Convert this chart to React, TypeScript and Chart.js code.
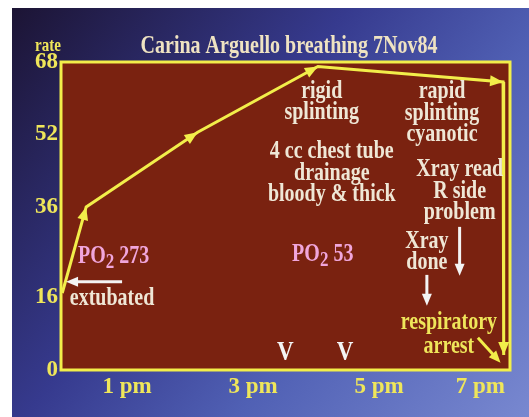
import React, { useEffect, useRef } from 'react';
import { Chart, registerables } from 'chart.js';

Chart.register(...registerables);

// ---- data ----
const times = [11.97, 12.35, 14.12, 16.03, 18.97, 18.98];
const rates = [17, 36, 52.5, 67, 63.6, 3.3];
const yTickValues = [0, 16, 36, 52, 68];
const xTickHours = [12, 13, 15, 17, 19];
const xTickLabels = ['', '1 pm', '3 pm', '5 pm', '7 pm'];
const chartTitle = 'Carina Arguello breathing 7Nov84';
const yAxisLabel = 'rate';

// ---- style ----
const YELLOW = '#f2ee4a';
const LABEL_YELLOW = '#efe65a';
const CREAM = '#efe7d6';
const PINK = '#f0a6dc';
const WHITE = '#f4f4f4';
const MAROON = '#7a2210';
const FONT = '"Liberation Serif", "Times New Roman", serif';
const STRETCH = 1.22;

type Note = { lines: string[]; t: number; v: number; color: string; lh: number };
const notes: Note[] = [
  { lines: ['rigid', 'splinting'], t: 16.09, v: 61.4, color: CREAM, lh: 20.5 },
  { lines: ['rapid', 'splinting', 'cyanotic'], t: 18.0, v: 61.4, color: CREAM, lh: 21.5 },
  { lines: ['4 cc chest tube', 'drainage', 'bloody & thick'], t: 16.25, v: 48.1, color: CREAM, lh: 21.5 },
  { lines: ['Xray read', 'R side', 'problem'], t: 18.28, v: 44.2, color: CREAM, lh: 21.5 },
  { lines: ['Xray', 'done'], t: 17.76, v: 28.3, color: CREAM, lh: 21 },
  { lines: ['respiratory', 'arrest'], t: 18.11, v: 10.4, color: LABEL_YELLOW, lh: 24 },
];
const poNotes = [
  { value: '273', t: 12.22, v: 25 },
  { value: '53', t: 15.62, v: 25.4 },
];
const whiteArrows = [
  { t0: 12.92, v0: 19.5, t1: 12.03, v1: 19.5 },
  { t0: 18.28, v0: 31.6, t1: 18.28, v1: 20.8 },
  { t0: 17.76, v0: 21.0, t1: 17.76, v1: 14.2 },
];
const yellowArrows = [{ t0: 18.57, v0: 7.1, t1: 18.93, v1: 1.6 }];
const vMarks = [15.51, 16.46];

function arrowHead(ctx: CanvasRenderingContext2D, x0: number, y0: number, x1: number, y1: number, len: number, half: number, color: string) {
  const a = Math.atan2(y1 - y0, x1 - x0);
  ctx.save();
  ctx.fillStyle = color;
  ctx.beginPath();
  ctx.moveTo(x1, y1);
  ctx.lineTo(x1 - len * Math.cos(a) + half * Math.sin(a), y1 - len * Math.sin(a) - half * Math.cos(a));
  ctx.lineTo(x1 - len * Math.cos(a) - half * Math.sin(a), y1 - len * Math.sin(a) + half * Math.cos(a));
  ctx.closePath();
  ctx.fill();
  ctx.restore();
}

function sText(ctx: CanvasRenderingContext2D, text: string, x: number, y: number) {
  ctx.save();
  ctx.translate(x, y);
  ctx.scale(1, STRETCH);
  ctx.fillText(text, 0, 0);
  ctx.restore();
}

const slidePlugin = {
  id: 'slide',
  beforeDraw(chart: any) {
    const { ctx, width, height, chartArea } = chart;
    ctx.save();
    ctx.fillStyle = '#ffffff';
    ctx.fillRect(0, 0, width, height);
    const g = ctx.createLinearGradient(12, 8, width, height);
    g.addColorStop(0, '#1c1434');
    g.addColorStop(0.4, '#363a8e');
    g.addColorStop(0.65, '#5060b4');
    g.addColorStop(1, '#7888d0');
    ctx.fillStyle = g;
    ctx.fillRect(12, 8, width - 12, height - 8);
    ctx.fillStyle = MAROON;
    ctx.fillRect(chartArea.left, chartArea.top, chartArea.right - chartArea.left, chartArea.bottom - chartArea.top);
    ctx.restore();
  },
  afterDatasetsDraw(chart: any) {
    const { ctx } = chart;
    const pts = chart.getDatasetMeta(0).data;
    for (let i = 1; i < pts.length; i++) {
      arrowHead(ctx, pts[i - 1].x, pts[i - 1].y, pts[i].x, pts[i].y, 13, 5.5, YELLOW);
    }
  },
  afterDraw(chart: any) {
    const { ctx, chartArea, scales } = chart;
    const X = (t: number) => scales.x.getPixelForValue(t);
    const Y = (v: number) => scales.y.getPixelForValue(v);
    ctx.save();
    // plot frame
    ctx.strokeStyle = YELLOW;
    ctx.lineWidth = 3;
    ctx.strokeRect(chartArea.left, chartArea.top, chartArea.right - chartArea.left, chartArea.bottom - chartArea.top);

    // title
    ctx.fillStyle = '#efe3c2';
    ctx.font = `bold 20px ${FONT}`;
    ctx.textAlign = 'center';
    ctx.textBaseline = 'middle';
    sText(ctx, chartTitle, 289, 47);

    // y axis label
    ctx.fillStyle = LABEL_YELLOW;
    ctx.font = `bold 15px ${FONT}`;
    sText(ctx, yAxisLabel, 48, 46);

    // text notes
    ctx.font = `bold 20px ${FONT}`;
    for (const n of notes) {
      ctx.fillStyle = n.color;
      n.lines.forEach((line, i) => sText(ctx, line, X(n.t), Y(n.v) + i * n.lh));
    }

    // PO2 notes
    ctx.textAlign = 'left';
    for (const p of poNotes) {
      let x = X(p.t);
      const y = Y(p.v);
      ctx.fillStyle = PINK;
      ctx.font = `bold 20px ${FONT}`;
      sText(ctx, 'PO', x, y);
      x += ctx.measureText('PO').width;
      ctx.font = `bold 17px ${FONT}`;
      sText(ctx, '2', x, y + 6);
      x += ctx.measureText('2').width;
      ctx.font = `bold 20px ${FONT}`;
      sText(ctx, ' ' + p.value, x, y);
    }

    // extubated
    ctx.fillStyle = CREAM;
    sText(ctx, 'extubated', X(12.09), Y(15.7));

    // V marks
    ctx.textAlign = 'center';
    ctx.fillStyle = WHITE;
    ctx.font = `bold 23px ${FONT}`;
    for (const t of vMarks) sText(ctx, 'V', X(t), Y(3.8));

    // arrows
    const drawArrow = (a: any, color: string) => {
      const x0 = X(a.t0), y0 = Y(a.v0), x1 = X(a.t1), y1 = Y(a.v1);
      const ang = Math.atan2(y1 - y0, x1 - x0);
      ctx.strokeStyle = color;
      ctx.lineWidth = 3;
      ctx.beginPath();
      ctx.moveTo(x0, y0);
      ctx.lineTo(x1 - 8 * Math.cos(ang), y1 - 8 * Math.sin(ang));
      ctx.stroke();
      arrowHead(ctx, x0, y0, x1, y1, 12, 5, color);
    };
    whiteArrows.forEach((a) => drawArrow(a, WHITE));
    yellowArrows.forEach((a) => drawArrow(a, YELLOW));
    ctx.restore();
  },
};

export default function App() {
  const ref = useRef<HTMLCanvasElement>(null);
  useEffect(() => {
    if (!ref.current) return;
    const chart = new Chart(ref.current, {
      type: 'line',
      data: {
        datasets: [
          {
            data: times.map((t, i) => ({ x: t, y: rates[i] })),
            borderColor: YELLOW,
            borderWidth: 3,
            pointRadius: 0,
            tension: 0,
            fill: false,
            clip: false as any,
          },
        ],
      },
      options: {
        animation: false,
        responsive: false,
        events: [],
        layout: { padding: { left: 0, right: 19, top: 62, bottom: 0 } },
        plugins: { legend: { display: false }, title: { display: false }, tooltip: { enabled: false } },
        scales: {
          x: {
            type: 'linear',
            min: 11.95,
            max: 19.08,
            grid: { display: false, drawTicks: false },
            border: { display: false },
            afterBuildTicks: (s: any) => {
              s.ticks = xTickHours.map((v) => ({ value: v }));
            },
            afterFit: (s: any) => {
              s.height = 47;
            },
            ticks: {
              autoSkip: false,
              maxRotation: 0,
              align: 'inner',
              padding: 3,
              color: LABEL_YELLOW,
              font: { family: FONT, size: 23, weight: 'bold' },
              callback: (_v: any, i: number) => xTickLabels[i],
            },
          },
          y: {
            type: 'linear',
            min: 0,
            max: 68,
            grid: { display: false, drawTicks: false },
            border: { display: false },
            afterBuildTicks: (s: any) => {
              s.ticks = yTickValues.map((v) => ({ value: v }));
            },
            afterFit: (s: any) => {
              s.width = 61;
            },
            ticks: {
              autoSkip: false,
              padding: 3,
              color: LABEL_YELLOW,
              font: { family: FONT, size: 23, weight: 'bold' },
              callback: (v: any) => String(v),
            },
          },
        },
      } as any,
      plugins: [slidePlugin],
    });
    return () => chart.destroy();
  }, []);
  return (
    <div style={{ position: 'fixed', left: 0, top: 0, width: 529, height: 417 }}>
      <canvas ref={ref} width={529} height={417} style={{ display: 'block' }} />
    </div>
  );
}
